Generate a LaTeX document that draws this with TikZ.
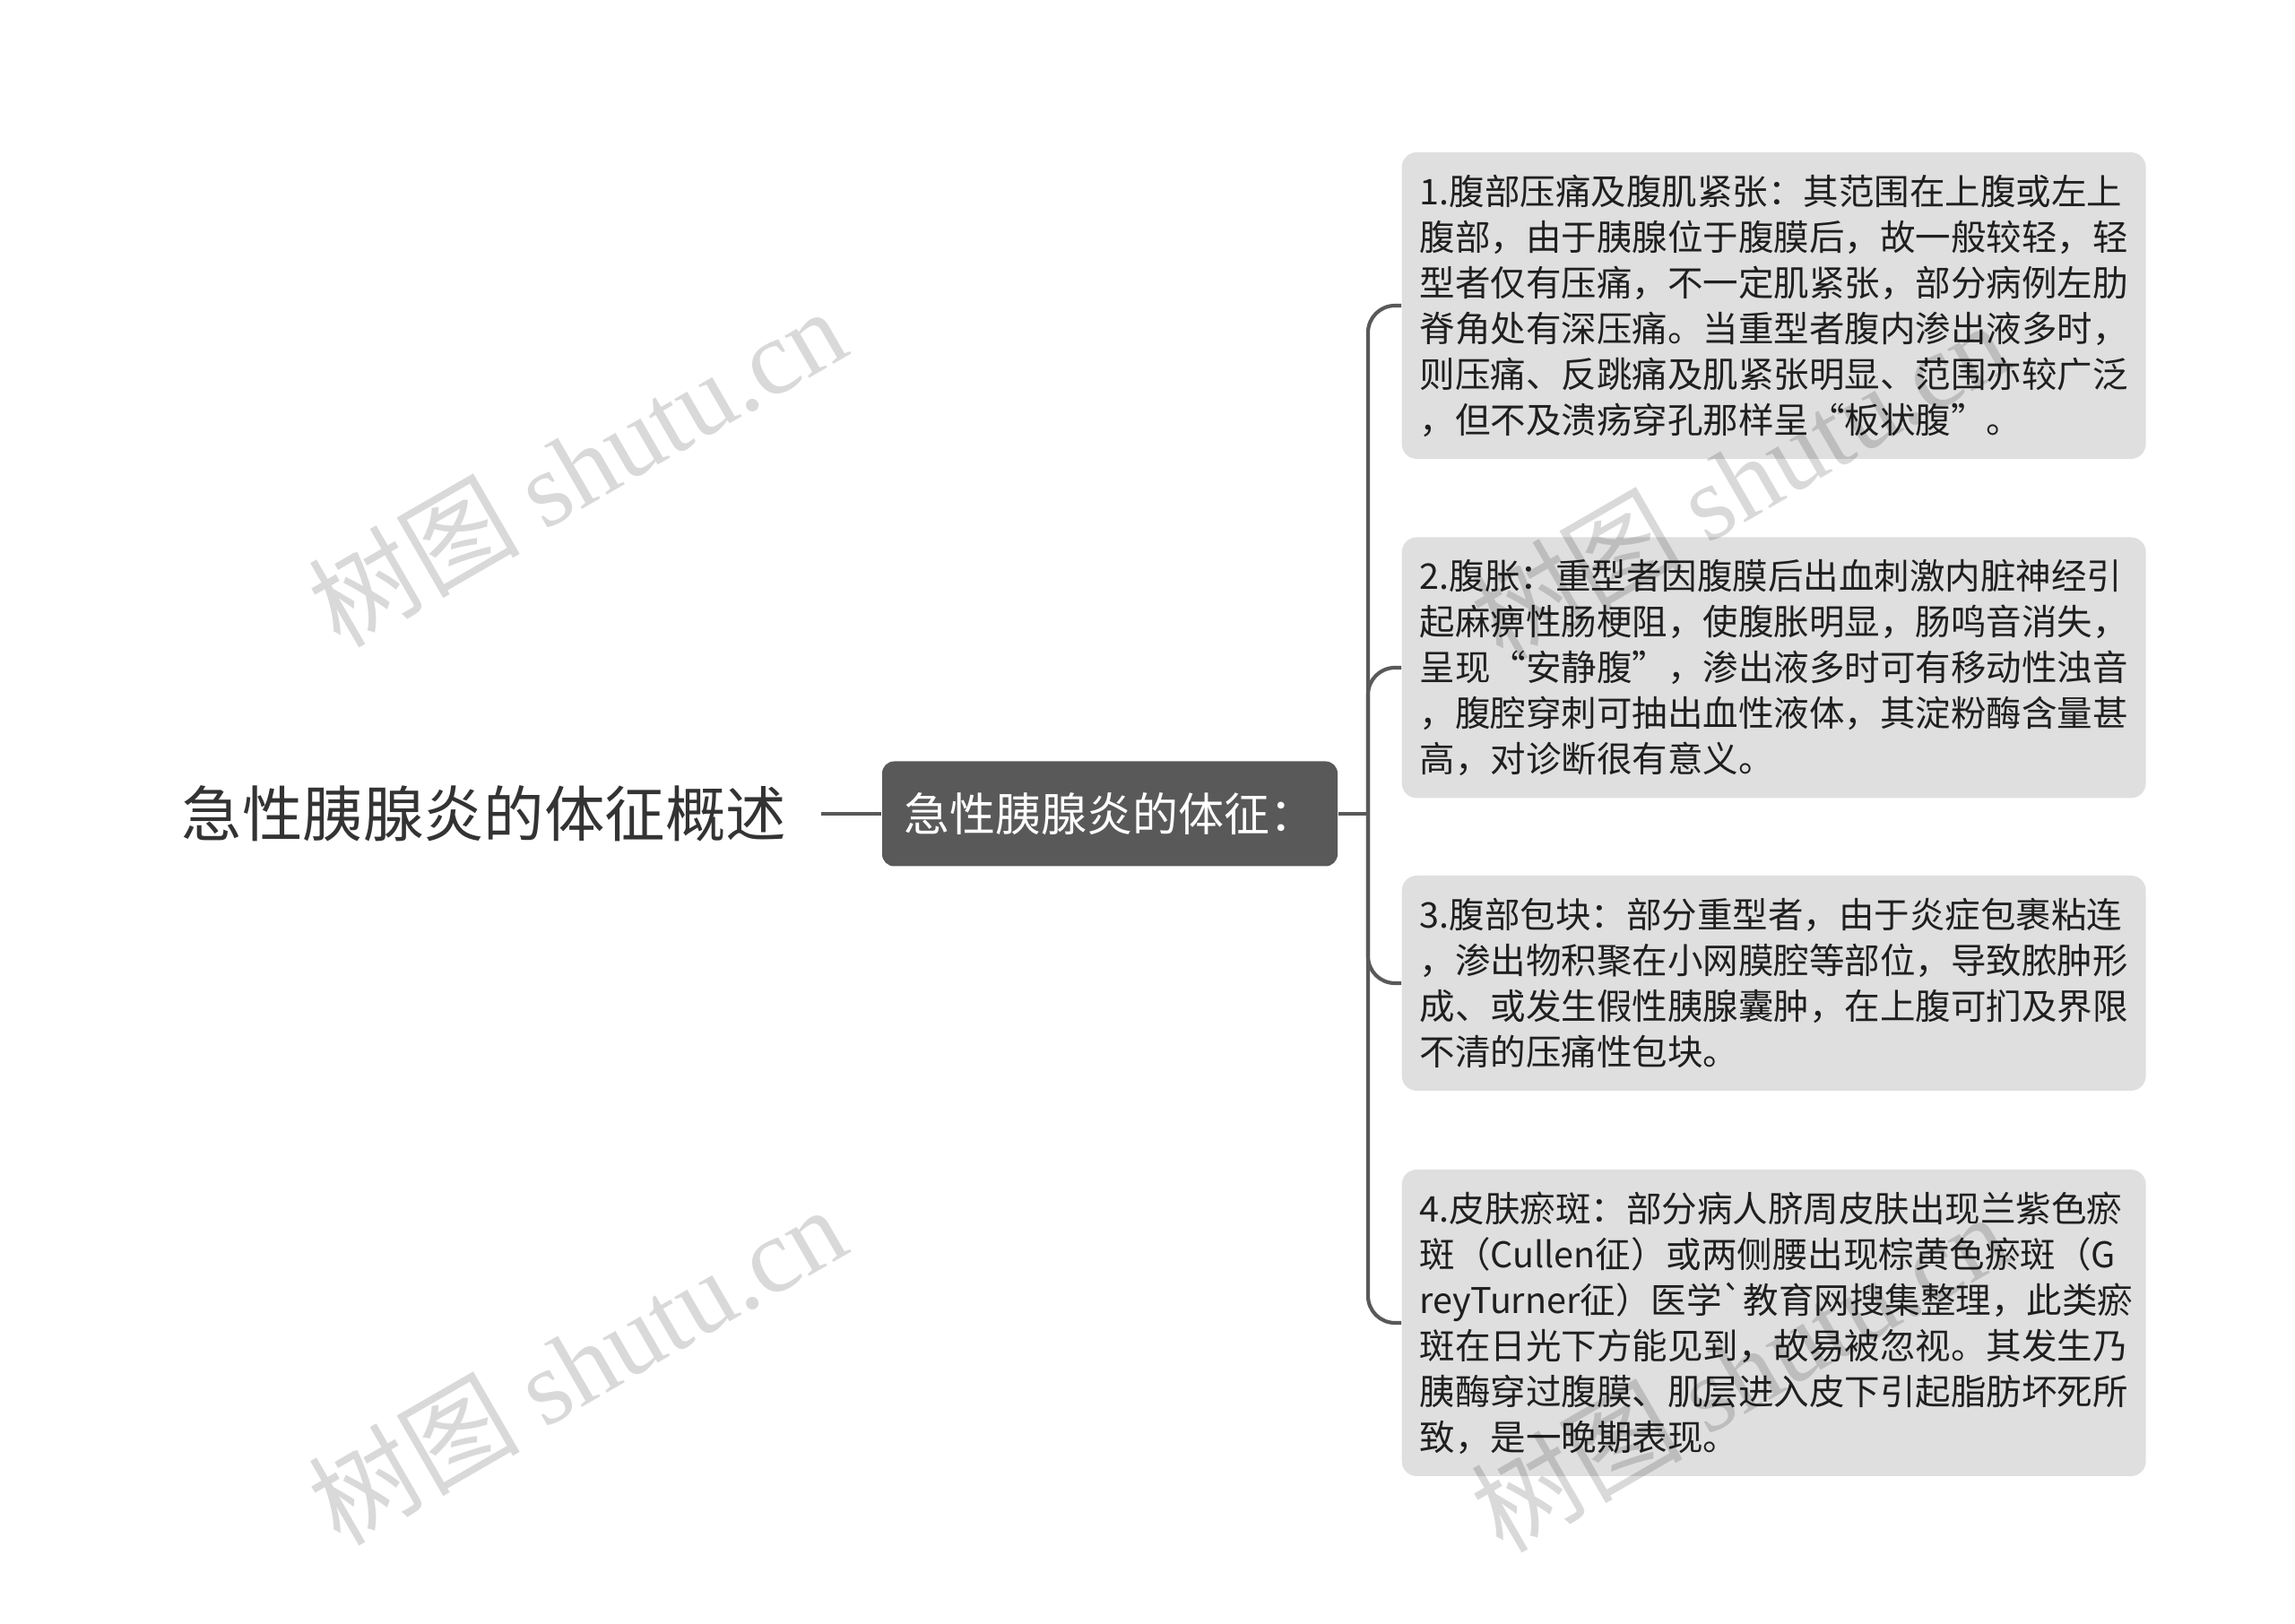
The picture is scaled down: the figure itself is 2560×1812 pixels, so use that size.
\documentclass[tikz,border=0pt]{standalone}
\usepackage{fontspec}
\newfontfamily\cjk{Noto Sans CJK SC}
\newfontfamily\wmserif{Liberation Serif}
\definecolor{conncol}{HTML}{595959}
\definecolor{midfill}{HTML}{595959}
\definecolor{boxfill}{HTML}{DFDFDF}
\definecolor{txtcol}{HTML}{1F1F1F}
\definecolor{roottxt}{HTML}{333333}
\begin{document}
\begin{tikzpicture}[x=0.3pt,y=-0.3pt,
  conn/.style={draw=conncol, line width=1.25pt},
  rootnode/.style={text=roottxt, font=\cjk\fontsize{20.25}{24}\selectfont, inner xsep=11.4pt, inner ysep=4pt},
  midnode/.style={fill=midfill, rounded corners=4pt, text=white, font=\cjk\fontsize{15.3}{18}\selectfont, minimum width=152.4pt, minimum height=35.1pt, inner sep=0pt},
  leaf/.style={fill=boxfill, rounded corners=5pt, text=txtcol, font=\cjk\fontsize{11.85}{15.3}\selectfont, align=left, text width=237pt, inner xsep=6pt, inner ysep=0pt, anchor=west},
  wm/.style={text=black, text opacity=0.15, rotate=30, font=\cjk\fontsize{35.5}{38}\selectfont}
]
\useasboundingbox (0,0) rectangle (2560,1812);
\node[rootnode] (root) at (540,908) {急性胰腺炎的体征概述};
\node[midnode] (mid) at (1238,908) {急性胰腺炎的体征：};
\coordinate (jn) at (1526,908);

\node[leaf, minimum height=102.6pt] (c1) at (1563,341) {1.腹部压痛及腹肌紧张：其范围在上腹或左上\\腹部，由于胰腺位于腹膜后，故一般较轻，轻\\型者仅有压痛，不一定肌紧张，部分病例左肋\\脊角处有深压痛。当重型者腹内渗出液多时，\\则压痛、反跳痛及肌紧张明显、范围亦较广泛\\，但不及溃疡穿孔那样呈“板状腹”。};
\node[leaf, minimum height=87.3pt] (c2) at (1563,745) {2.腹胀：重型者因腹膜后出血刺激内脏神经引\\起麻痹性肠梗阻，使腹胀明显，肠鸣音消失，\\呈现“安静腹”，渗出液多时可有移动性浊音\\，腹腔穿刺可抽出血性液体，其淀粉酶含量甚\\高，对诊断很有意义。};
\node[leaf, minimum height=72pt] (c3) at (1563,1097) {3.腹部包块：部分重型者，由于炎症包裹粘连\\，渗出物积聚在小网膜腔等部位，导致脓肿形\\成、或发生假性胰腺囊肿，在上腹可扪及界限\\不清的压痛性包块。};
\node[leaf, minimum height=102.6pt] (c4) at (1563,1476) {4.皮肤瘀斑：部分病人脐周皮肤出现兰紫色瘀\\斑（Cullen征）或两侧腰出现棕黄色瘀斑（G\\reyTurner征）医学`教育网搜集整理，此类瘀\\斑在日光下方能见到，故易被忽视。其发生乃\\胰酶穿过腹膜、肌层进入皮下引起脂肪坏死所\\致，是一晚期表现。};

\draw[conn] (root.east) -- (mid.west);
\draw[conn] (mid.east) -- (jn);
\foreach \c in {c1,c2,c3,c4}{
  \draw[conn, rounded corners=9pt] (jn) |- (\c.west);
}

\node[wm] (w1) at (643,520) {树图 {\wmserif shutu.cn}};
\node[wm] (w2) at (643,1522) {树图 {\wmserif shutu.cn}};
\node[wm] (w3) at (1940,535) {树图 {\wmserif shutu.cn}};
\node[wm] (w4) at (1940,1530) {树图 {\wmserif shutu.cn}};
\end{tikzpicture}
\end{document}
